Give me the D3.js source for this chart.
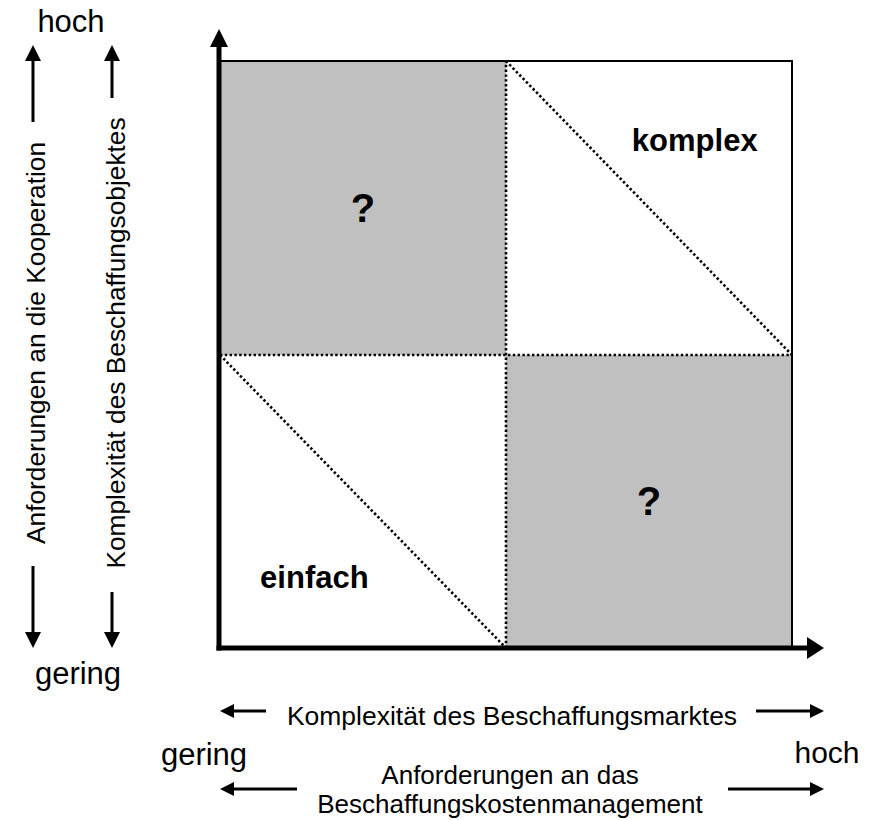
<!DOCTYPE html>
<html>
<head>
<meta charset="utf-8">
<script src="https://cdn.jsdelivr.net/npm/d3@7"></script>
<style>
  body { margin: 0; background: #fff; }
  text { font-family: "Liberation Sans", Arial, sans-serif; fill: #000; }
</style>
</head>
<body>
<svg id="chart" width="881" height="820"></svg>
<script>
// matrix cells: column, row (0 = gering, 1 = hoch)
var cells = [
  {col: 0, row: 1, fill: "#c0c0c0"},
  {col: 1, row: 1, fill: "#ffffff"},
  {col: 0, row: 0, fill: "#ffffff"},
  {col: 1, row: 0, fill: "#c0c0c0"}
];
var cellLabels = [
  {col: 0.5, row: 1.5, text: "?"},
  {col: 1.5, row: 0.5, text: "?"},
  {col: 1.66, row: 1.73, text: "komplex"},
  {col: 0.33, row: 0.24, text: "einfach"}
];
// diagonals inside the white cells
var diagonals = [
  [[1, 2], [2, 1]],
  [[0, 1], [1, 0]]
];
var levelLabels = ["gering", "hoch"];
var yAxisTitles = ["Anforderungen an die Kooperation", "Komplexität des Beschaffungsobjektes"];
var xAxisTitles = [["Komplexität des Beschaffungsmarktes"], ["Anforderungen an das", "Beschaffungskostenmanagement"]];

var svg = d3.select("#chart");
var x = d3.scaleLinear().domain([0, 2]).range([220, 792]);
var y = d3.scaleLinear().domain([0, 2]).range([648, 61]);
var px = function(v){ return Math.round(x(v)); };
var py = function(v){ return Math.round(y(v)); };

// arrowhead helper
function arrow(x1, y1, x2, y2, w, hl, hw) {
  var dx = x2 - x1, dy = y2 - y1, len = Math.sqrt(dx*dx + dy*dy);
  var ux = dx/len, uy = dy/len;
  var bx = x2 - ux*hl, by = y2 - uy*hl;
  svg.append("line").attr("x1", x1).attr("y1", y1).attr("x2", bx + ux*1).attr("y2", by + uy*1)
    .attr("stroke", "#000").attr("stroke-width", w);
  svg.append("path")
    .attr("d", "M" + x2 + "," + y2 + "L" + (bx - uy*hw) + "," + (by + ux*hw) + "L" + (bx + uy*hw) + "," + (by - ux*hw) + "Z")
    .attr("fill", "#000");
}

// cells
svg.selectAll("rect.cell").data(cells).enter().append("rect")
  .attr("class", "cell")
  .attr("x", function(d){ return px(d.col); })
  .attr("y", function(d){ return py(d.row + 1); })
  .attr("width", function(d){ return px(d.col + 1) - px(d.col); })
  .attr("height", function(d){ return py(d.row) - py(d.row + 1); })
  .attr("fill", function(d){ return d.fill; });

// outer frame (top, right)
svg.append("path")
  .attr("d", "M" + px(0) + "," + py(2) + "H" + px(2) + "V" + py(0))
  .attr("fill", "none").attr("stroke", "#000").attr("stroke-width", 2);

// dotted dividers
var dotted = [
  [[1, 0], [1, 2]],
  [[0, 1], [2, 1]]
].concat(diagonals);
svg.selectAll("line.dot").data(dotted).enter().append("line")
  .attr("class", "dot")
  .attr("x1", function(d){ return px(d[0][0]); })
  .attr("y1", function(d){ return py(d[0][1]); })
  .attr("x2", function(d){ return px(d[1][0]); })
  .attr("y2", function(d){ return py(d[1][1]); })
  .attr("stroke", "#000").attr("stroke-width", 2.6)
  .attr("stroke-dasharray", "2.4,2.4");

// main axes
arrow(px(0) - 1, py(0) + 2.5, px(0) - 1, 29, 5, 18, 9);
arrow(px(0) - 3.5, py(0), 824, py(0), 5, 17, 11);

// cell labels
svg.selectAll("text.cl").data(cellLabels).enter().append("text")
  .attr("class", "cl")
  .attr("x", function(d){ return x(d.col); })
  .attr("y", function(d){ return y(d.row); })
  .attr("text-anchor", "middle")
  .attr("dominant-baseline", "central")
  .attr("font-weight", "bold")
  .attr("font-size", function(d){ return d.text === "?" ? 40 : 31; })
  .text(function(d){ return d.text; });

// left side: level labels
svg.append("text").attr("x", 71).attr("y", 32).attr("text-anchor", "middle")
  .attr("font-size", 31).text(levelLabels[1]);
svg.append("text").attr("x", 78).attr("y", 684).attr("text-anchor", "middle")
  .attr("font-size", 31).text(levelLabels[0]);

// left side: rotated titles with arrows
var yCols = [
  {bx: 45, ax: 33, up: 122, down: 566},
  {bx: 125, ax: 112, up: 98, down: 592}
];
yAxisTitles.forEach(function(t, i){
  var c = yCols[i];
  svg.append("text")
    .attr("transform", "translate(" + c.bx + ",343) rotate(-90)")
    .attr("text-anchor", "middle")
    .attr("font-size", 26.3)
    .text(t);
  arrow(c.ax, c.up, c.ax, 45, 3, 16, 8);
  arrow(c.ax, c.down, c.ax, 648, 3, 16, 8);
});

// bottom: titles with arrows
svg.append("text").attr("x", 512).attr("y", 725).attr("text-anchor", "middle")
  .attr("font-size", 26.5).text(xAxisTitles[0][0]);
arrow(266, 711, 220, 711, 3, 14, 7);
arrow(756, 711, 824, 711, 3, 14, 7);

svg.append("text").attr("x", 204).attr("y", 765).attr("text-anchor", "middle")
  .attr("font-size", 31).text(levelLabels[0]);
svg.append("text").attr("x", 827).attr("y", 763).attr("text-anchor", "middle")
  .attr("font-size", 30).text(levelLabels[1]);

xAxisTitles[1].forEach(function(t, i){
  svg.append("text").attr("x", 510).attr("y", 784 + i*29).attr("text-anchor", "middle")
    .attr("font-size", 26).text(t);
});
arrow(297, 789, 220, 789, 3, 14, 7);
arrow(728, 789, 824, 789, 3, 14, 7);
</script>
</body>
</html>
